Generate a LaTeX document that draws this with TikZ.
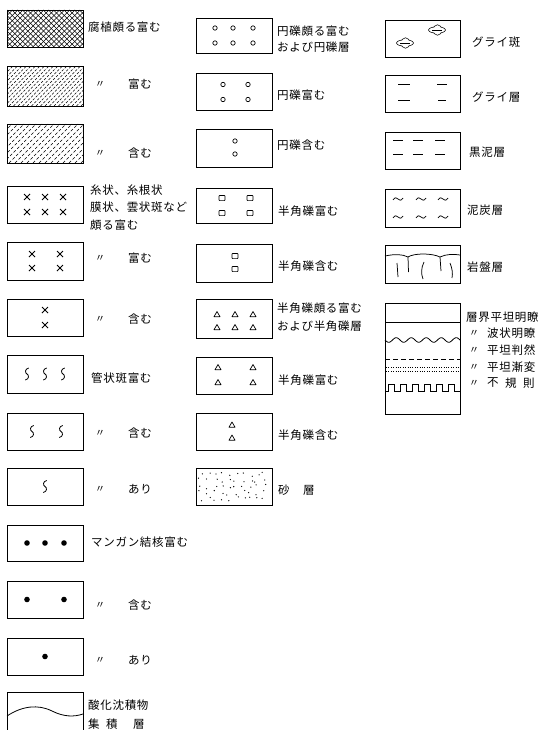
\documentclass[tikz,border=0pt]{standalone}
\usepackage{fontspec}
\newfontfamily\jp[LetterSpace=6]{Noto Sans CJK JP}
\begin{document}
\begin{tikzpicture}[x=1pt,y=-1pt,
  bx/.style={draw, line width=0.85pt, inner sep=0, minimum width=76pt},
  lab/.style={anchor=west, inner sep=0, font=\fontsize{11.5}{13}\jp},
  dit/.style={inner sep=0, font=\fontsize{10}{12}\jp},
  sy/.style={line width=0.7pt},
  xm/.pic={\draw[line width=0.75pt] (-3,-3)--(3,3) (-3,3)--(3,-3);},
  sq/.pic={\draw[line width=0.8pt] (1.8,-6) .. controls (-2.5,-5) and (-2,-1) .. (0,0) .. controls (2,1) and (2.5,5) .. (-1.8,6);},
  dt/.pic={\fill (0,0) circle (2.8);},
  ci/.pic={\draw[line width=0.7pt] (0,0) circle (2.2);},
  sb/.pic={\draw[line width=0.7pt, rounded corners=0.8pt] (-3,-2.6) rectangle (3,2.6);},
  tr/.pic={\draw[line width=0.7pt, line join=round] (-3,2.2)--(3,2.2)--(0,-3)--cycle;},
  tl/.pic={\draw[line width=0.7pt] (-5,1) .. controls (-3,-2.5) and (-1,-1) .. (0,0) .. controls (1,1) and (3,2.5) .. (5,-1);},
  cloud/.pic={\path[draw,line width=1.4pt] (0,0) ellipse [x radius=8, y radius=2.8] (0.5,0) ellipse [x radius=4, y radius=4.8];
              \fill[white] (0,0) ellipse [x radius=8, y radius=2.8] (0.5,0) ellipse [x radius=4, y radius=4.8];
              \draw[line width=0.6pt] (-5,0)--(5,0);},
]
\useasboundingbox (0,0) rectangle (543,730);
\fill[white] (0,0) rectangle (543,730);

% ---------------- left column ----------------
\begin{scope}
\clip (7,10) rectangle (83,47);
\foreach \i in {-40,-34.8,...,90} {\draw[line width=0.55pt] (\i,47)--++(37,-37); \draw[line width=0.55pt] (\i,10)--++(37,37);}
\end{scope}
\node[bx, minimum height=37pt] (L1) at (45,28.5) {};
\begin{scope}
\clip (7,66) rectangle (83,106);
\foreach \i in {-45,-40.5,...,90} {\draw[line width=0.45pt, dash pattern=on 2.5pt off 1.6pt] (\i,106)--++(40,-40);}
\end{scope}
\node[bx, minimum height=40pt] (L2) at (45,86) {};
\begin{scope}
\clip (7,124) rectangle (83,163);
\foreach \i in {-45,-39,...,90} {\draw[line width=0.45pt, dash pattern=on 3pt off 2pt] (\i,163)--++(39,-39);}
\end{scope}
\node[bx, minimum height=39pt] (L3) at (45,143.5) {};
\node[bx, minimum height=37pt] (L4) at (45,204.5) {};
\node[bx, minimum height=38pt] (L5) at (45,261) {};
\node[bx, minimum height=37pt] (L6) at (45,317.5) {};
\node[bx, minimum height=38pt] (L7) at (45,374) {};
\node[bx, minimum height=37pt] (L8) at (45,431.5) {};
\node[bx, minimum height=37pt] (L9) at (45,486.5) {};
\node[bx, minimum height=36pt] (L10) at (45,543) {};
\node[bx, minimum height=37pt] (L11) at (45,599.5) {};
\node[bx, minimum height=37pt] (L12) at (45,656.5) {};
\coordinate (L13a) at (7,731); \coordinate (L13b) at (83,731);
\draw[line width=0.85pt] (L13a) |- (83,692) -- (L13b);
\draw[line width=0.8pt] (7,716) .. controls (22,706) and (38,704) .. (52,711) .. controls (64,717) and (74,717) .. (83,714);

\foreach \dx in {-18,0,18} \foreach \dy in {-7.5,7.5} \pic at ([shift={(\dx,\dy)}]L4.center) {xm};
\foreach \dx in {-13,15} \foreach \dy in {-7,7} \pic at ([shift={(\dx,\dy)}]L5.center) {xm};
\foreach \dy in {-7.5,7.5} \pic at ([shift={(0,\dy)}]L6.center) {xm};
\foreach \dx in {-18,0,18} \pic at ([shift={(\dx,0)}]L7.center) {sq};
\foreach \dx in {-13,16} \pic at ([shift={(\dx,0)}]L8.center) {sq};
\pic at (L9.center) {sq};
\foreach \dx in {-18,0,19} \pic at ([shift={(\dx,0)}]L10.center) {dt};
\foreach \dx in {-18,19} \pic at ([shift={(\dx,0)}]L11.center) {dt};
\pic at (L12.center) {dt};

\node[lab] (t1) at (88,27) {腐植頗る富む};
\node[dit] (d2) at (100,84) {〃}; \node[lab] (t2) at (128,84) {富む};
\node[dit] (d3) at (100,153) {〃}; \node[lab] (t3) at (128,153) {含む};
\node[lab] (t4a) at (90,190) {糸状、糸根状};
\node[lab] (t4b) at (90,207) {膜状、雲状斑など};
\node[lab] (t4c) at (90,225) {頗る富む};
\node[dit] (d5) at (100,258) {〃}; \node[lab] (t5) at (128,258) {富む};
\node[dit] (d6) at (100,319) {〃}; \node[lab] (t6) at (128,319) {含む};
\node[lab] (t7) at (91,378) {管状斑富む};
\node[dit] (d8) at (100,433) {〃}; \node[lab] (t8) at (128,433) {含む};
\node[dit] (d9) at (100,489) {〃}; \node[lab] (t9) at (128,489) {あり};
\node[lab] (t10) at (91,542) {マンガン結核富む};
\node[dit] (d11) at (100,605) {〃}; \node[lab] (t11) at (128,605) {含む};
\node[dit] (d12) at (100,660) {〃}; \node[lab] (t12) at (128,660) {あり};
\node[lab] (t13a) at (88,705) {酸化沈積物};
\node[lab] (t13b) at (88,724) {集}; \node[lab] (t13c) at (106,724) {積}; \node[lab] (t13d) at (133,724) {層};

% ---------------- middle column ----------------
\node[bx, minimum height=35pt] (M1) at (234,35.5) {};
\node[bx, minimum height=37pt] (M2) at (234,91.5) {};
\node[bx, minimum height=38pt] (M3) at (234,148) {};
\node[bx, minimum height=35pt] (M4) at (234,205.5) {};
\node[bx, minimum height=38pt] (M5) at (234,263) {};
\node[bx, minimum height=39pt] (M6) at (234,318.5) {};
\node[bx, minimum height=37pt] (M7) at (234,375.5) {};
\node[bx, minimum height=37pt] (M8) at (234,431.5) {};
\node[bx, minimum height=37pt] (M9) at (234,486.5) {};

\foreach \dx in {-19,-1,19} \foreach \dy in {-7.5,7.5} \pic at ([shift={(\dx,\dy)}]M1.center) {ci};
\foreach \dx in {-11,14} \foreach \dy in {-7,8} \pic at ([shift={(\dx,\dy)}]M2.center) {ci};
\foreach \dy in {-7,6} \pic at ([shift={(1,\dy)}]M3.center) {ci};
\foreach \dx in {-12,16} \foreach \dy in {-7.5,7.5} \pic at ([shift={(\dx,\dy)}]M4.center) {sb};
\foreach \dy in {-7,6} \pic at ([shift={(1,\dy)}]M5.center) {sb};
\foreach \dx in {-17,1,19} \foreach \dy in {-4,9} \pic at ([shift={(\dx,\dy)}]M6.center) {tr};
\foreach \dx in {-16,19} \foreach \dy in {-8,7} \pic at ([shift={(\dx,\dy)}]M7.center) {tr};
\foreach \dy in {-6.5,6.5} \pic at ([shift={(-2,\dy)}]M8.center) {tr};
\pgfmathsetseed{5}
\foreach \i in {0,...,9} \foreach \j in {0,...,4} {
  \pgfmathsetmacro\px{201+7*\i+2.8*rand}
  \pgfmathsetmacro\py{474+6.3*\j+2.4*rand}
  \fill (\px,\py) circle (0.65pt);}

\node[lab] (m1a) at (277,31) {円礫頗る富む};
\node[lab] (m1b) at (277,47) {および円礫層};
\node[lab] (m2) at (277,95) {円礫富む};
\node[lab] (m3) at (277,145) {円礫含む};
\node[lab] (m4) at (278,211) {半角礫富む};
\node[lab] (m5) at (278,266) {半角礫含む};
\node[lab] (m6a) at (277,308) {半角礫頗る富む};
\node[lab] (m6b) at (277,326) {および半角礫層};
\node[lab] (m7) at (278,380) {半角礫富む};
\node[lab] (m8) at (278,435) {半角礫含む};
\node[lab] (m9a) at (278,490) {砂}; \node[lab] (m9b) at (303,490) {層};

% ---------------- right column ----------------
\tikzset{rb/.style={bx, minimum width=75pt}}
\node[rb, minimum height=37pt] (R1) at (422.5,38.5) {};
\node[rb, minimum height=37pt] (R2) at (422.5,93.5) {};
\node[rb, minimum height=37pt] (R3) at (422.5,150.5) {};
\node[rb, minimum height=38pt] (R4) at (422.5,208) {};
\node[rb, minimum height=38pt] (R5) at (422.5,264) {};
\node[rb, minimum height=111pt] (R6) at (422.5,358.5) {};

\pic at (437,30) {cloud};
\pic at (405,43) {cloud};
\draw[sy] (398,84)--(410,84) (437,84)--(447,84) (398,100)--(410,100) (438,100)--(446,100);
\foreach \xa in {393,413,435} \draw[sy] (\xa,140)--++(10,0) (\xa,154)--++(10,0);
\foreach \dx in {-24.5,-1.5,20.5} \foreach \yy in {199,217} \pic at (422.5+\dx,\yy) {tl};
\draw[line width=0.75pt] (385,256) .. controls (395,254) and (402,254) .. (408,257) .. controls (414,253) and (432,253) .. (440,257) .. controls (446,254) and (454,254) .. (460,255);
\draw[line width=0.75pt] (408,257)--(408.5,272) (440,257)--(441,271) (397,263)--(398,277)
  (424,262) .. controls (421,268) and (421,274) .. (423,279)
  (450,263) .. controls (452,268) and (453,273) .. (452,278);
\draw[line width=0.8pt] (385,322)--(460,322);
\draw[line width=0.8pt] plot[domain=385:460, samples=80, smooth] (\x,{340+2.3*sin(24*(\x-385))});
\draw[line width=0.8pt, dash pattern=on 5pt off 3pt] (385,359)--(460,359);
\draw[line width=0.9pt, dash pattern=on 0.8pt off 1.6pt] (386,367)--(460,367) (386,371)--(460,371);
\draw[line width=0.8pt] (385,391) foreach \k in {0,...,5} { -- ({388+12*\k},391) -- ({388+12*\k},384) -- ({394+12*\k},384) -- ({394+12*\k},391) } -- (460,391);

\node[lab] (r1) at (472,42) {グライ斑};
\node[lab] (r2) at (472,97) {グライ層};
\node[lab] (r3) at (469,152) {黒泥層};
\node[lab] (r4) at (467,210) {泥炭層};
\node[lab] (r5) at (467,267) {岩盤層};
\node[lab] (r6a) at (466,317) {層界平坦明瞭};
\node[dit] (rd2) at (474,333) {〃}; \node[lab] (r6b) at (487,333) {波状明瞭};
\node[dit] (rd3) at (474,350) {〃}; \node[lab] (r6c) at (487,350) {平坦判然};
\node[dit] (rd4) at (474,367) {〃}; \node[lab] (r6d) at (487,367) {平坦漸変};
\node[dit] (rd5) at (474,383) {〃};
\node[lab] (r6e) at (487,383) {不}; \node[lab] (r6f) at (505,383) {規}; \node[lab] (r6g) at (523,383) {則};
\end{tikzpicture}
\end{document}
